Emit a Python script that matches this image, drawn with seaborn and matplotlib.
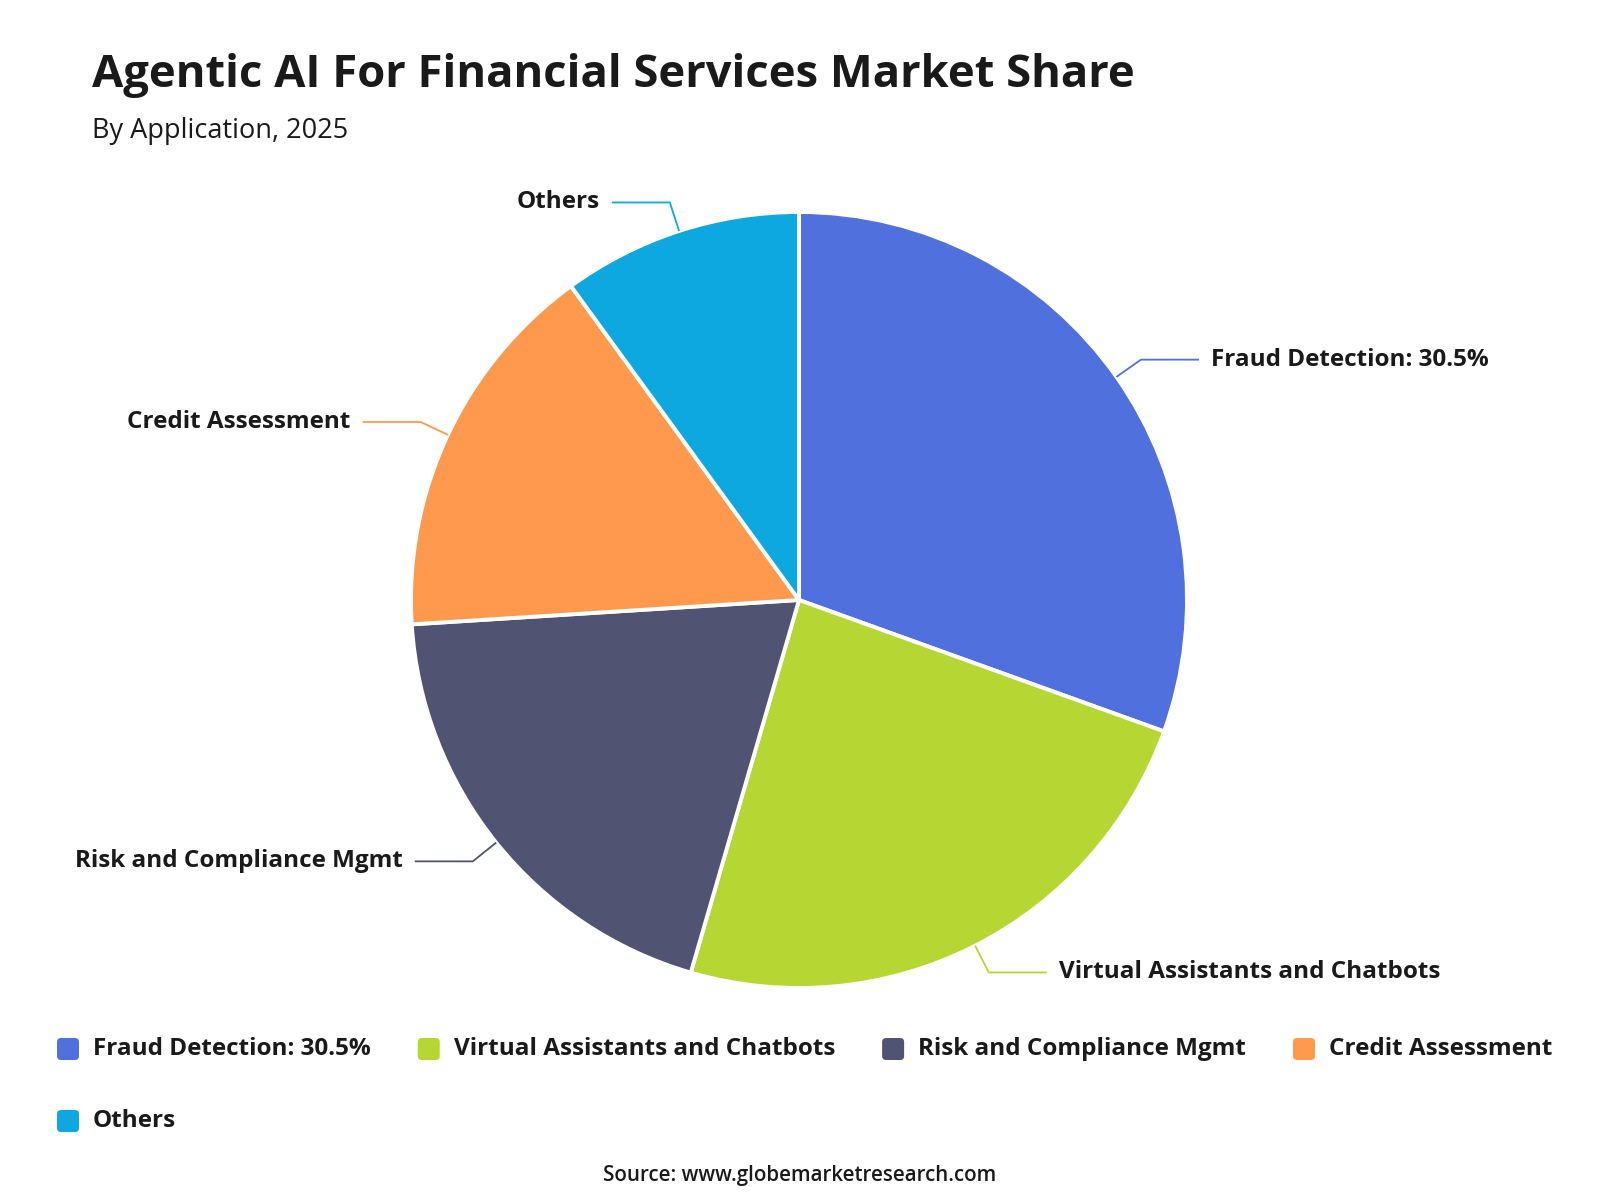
import numpy as np
import matplotlib
matplotlib.use("Agg")
import matplotlib.pyplot as plt
import seaborn as sns
from matplotlib import font_manager
from matplotlib.patches import FancyBboxPatch

# data
segments = ["Fraud Detection: 30.5%", "Virtual Assistants and Chatbots",
            "Risk and Compliance Mgmt", "Credit Assessment", "Others"]
shares = [30.5, 24.0, 19.5, 16.0, 10.0]
colors = ["#5070dd", "#b6d634", "#505372", "#ff994d", "#0ca8df"]

title = "Agentic AI For Financial Services Market Share"
subtitle = "By Application, 2025"
source = "Source: www.globemarketresearch.com"

sns.set_theme(style="white")

# pick a family that really has a bold face installed
fam = "DejaVu Sans"
for cand in ["Open Sans", "Noto Sans", "Lato", "Roboto"]:
    faces = [f for f in font_manager.fontManager.ttflist if f.name == cand]
    if any((f.weight if isinstance(f.weight, int) else 400) >= 600 or f.weight == "bold" for f in faces):
        fam = cand
        break
plt.rcParams["font.family"] = [fam, "DejaVu Sans"]
txt = "#1a1a1a"
lab_size = 17.5

W, H = 1600, 1200
fig = plt.figure(figsize=(16, 12), dpi=100)
ax = fig.add_axes([0, 0, 1, 1])

cx, cy, r = 799, 600, 388
wedges, _ = ax.pie(shares, colors=colors, startangle=90, counterclock=False,
                   center=(cx, cy), radius=r,
                   wedgeprops=dict(edgecolor="white", linewidth=2.8, joinstyle="round"))
ax.set_xlim(0, W)
ax.set_ylim(0, H)
ax.set_aspect("equal")
ax.axis("off")

# leader lines + outside labels
for w, lab, col in zip(wedges, segments, colors):
    th = np.deg2rad((w.theta1 + w.theta2) / 2)
    x0, y0 = cx + r * np.cos(th), cy + r * np.sin(th)
    x1, y1 = cx + (r + 30) * np.cos(th), cy + (r + 30) * np.sin(th)
    side = 1 if np.cos(th) > 0 else -1
    x2 = x1 + side * 58
    ax.plot([x0, x1, x2], [y0, y1, y1], color=col, lw=1.3, solid_capstyle="butt")
    ax.text(x2 + side * 12, y1, lab, ha="left" if side > 0 else "right",
            va="center", fontsize=lab_size, fontweight="bold", color=txt)

# titles
ax.text(92, H - 87, title, fontsize=32.7, fontweight="bold", color=txt, va="baseline")
ax.text(92, H - 131, subtitle, fontsize=19.5, color=txt, va="center")
ax.text(W / 2, H - 1176, source, fontsize=14.8, color=txt, ha="center", va="center",
        fontweight="semibold")

# legend laid out in rows like the original
renderer = fig.canvas.get_renderer()
lx, ly = 57, H - 1049
for lab, col in zip(segments, colors):
    t = ax.text(lx + 36, ly, lab, fontsize=lab_size, fontweight="bold", color=txt,
                va="center", ha="left")
    end = t.get_window_extent(renderer).x1
    if end > W - 40:
        t.remove()
        lx, ly = 57, ly - 72
        t = ax.text(lx + 36, ly, lab, fontsize=lab_size, fontweight="bold", color=txt,
                    va="center", ha="left")
        end = t.get_window_extent(renderer).x1
    ax.add_patch(FancyBboxPatch((lx, ly - 11), 22, 22,
                                boxstyle="round,pad=0,rounding_size=4",
                                facecolor=col, edgecolor="none"))
    lx = end + 47

fig.savefig("out.png", dpi=100, facecolor="white")
